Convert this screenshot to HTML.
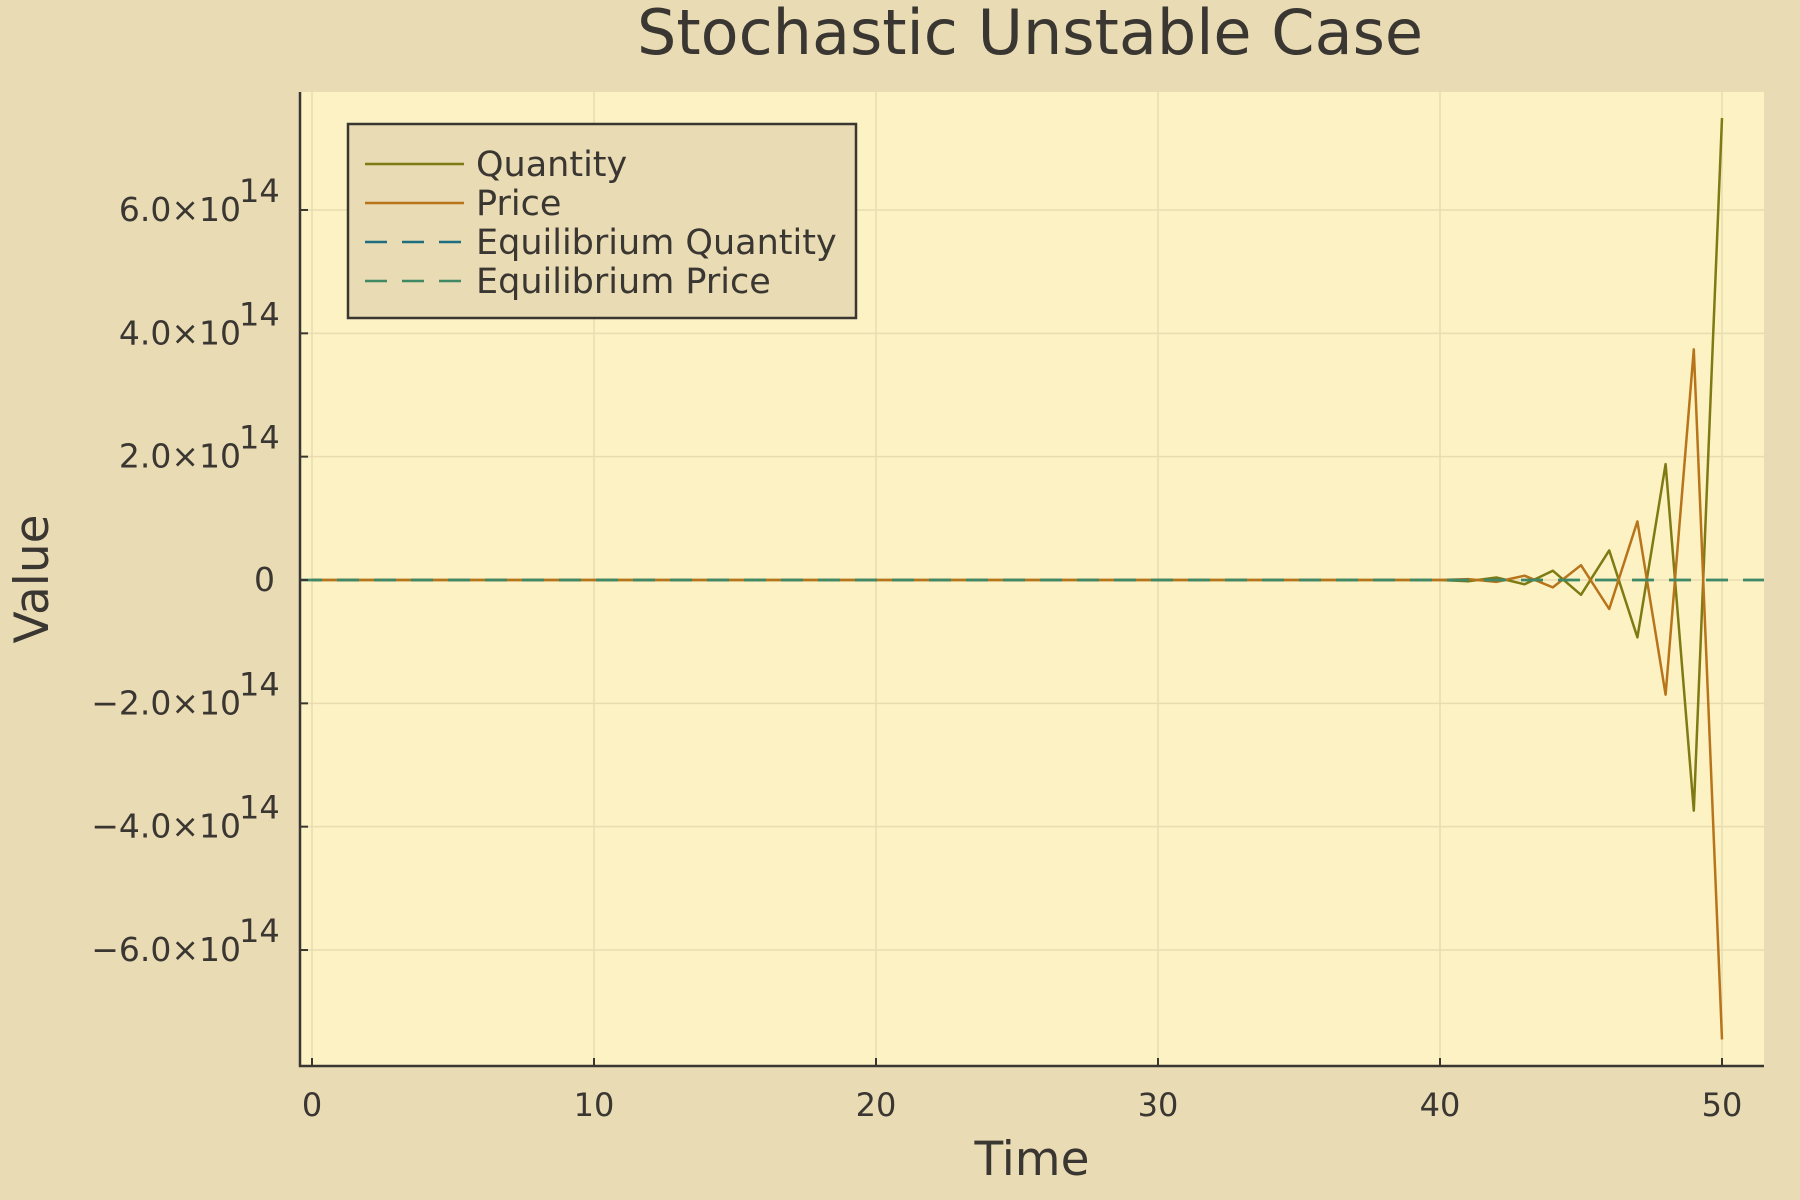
<!DOCTYPE html>
<html><head><meta charset="utf-8"><style>
html,body{margin:0;padding:0;background:#e9dbb3;}
svg{display:block;font-family:"DejaVu Sans","Liberation Sans",sans-serif;}
</style></head><body>
<svg id="chart" width="1800" height="1200" viewBox="0 0 1800 1200">
<rect x="0" y="0" width="1800" height="1200" fill="#e9dbb3"/>
<rect x="300" y="92" width="1464" height="974" fill="#fdf2c4"/>
<g id="grid"></g>
<g id="series"></g>
<g id="axes"></g>
<text x="1030" y="54" text-anchor="middle" font-size="62" fill="#3a3632">Stochastic Unstable Case</text>
<text x="1032" y="1175" text-anchor="middle" font-size="47" fill="#3a3632">Time</text>
<text transform="translate(48,579) rotate(-90)" text-anchor="middle" font-size="47" fill="#3a3632">Value</text>
<g>
<rect x="348" y="124" width="508" height="194" fill="#e9dbb3" stroke="#3a3632" stroke-width="2.5"/>
<g><line x1="365" y1="164" x2="464" y2="164" stroke="#7f7a14" stroke-width="2.5"/><text x="476" y="176" font-size="35" fill="#3a3632">Quantity</text></g>
<g><line x1="365" y1="203" x2="464" y2="203" stroke="#b8741a" stroke-width="2.5"/><text x="476" y="215" font-size="35" fill="#3a3632">Price</text></g>
<g><line x1="365" y1="242" x2="464" y2="242" stroke="#1f6e80" stroke-width="2.5" stroke-dasharray="22,15"/><text x="476" y="254" font-size="35" fill="#3a3632">Equilibrium Quantity</text></g>
<g><line x1="365" y1="281" x2="464" y2="281" stroke="#3f8a64" stroke-width="2.5" stroke-dasharray="22,15"/><text x="476" y="293" font-size="35" fill="#3a3632">Equilibrium Price</text></g>
</g>
</svg>
<script>
const times=[];for(let i=0;i<=50;i++)times.push(i);
const quantityTail=[-0.02,0.04,-0.07,0.15,-0.24,0.48,-0.93,1.88,-3.74,7.49]; // t=41..50, units 1e14
const priceTail=[0.015,-0.03,0.07,-0.12,0.24,-0.47,0.95,-1.86,3.74,-7.45];
const quantity=times.map(t=>t>=41?quantityTail[t-41]:0);
const price=times.map(t=>t>=41?priceTail[t-41]:0);
const eqQuantity=0, eqPrice=0;
const xTicks=[0,10,20,30,40,50];
const yTicks=[-6,-4,-2,0,2,4,6];
const yTickLabels=["\u22126.0\u00d710","\u22124.0\u00d710","\u22122.0\u00d710","0","2.0\u00d710","4.0\u00d710","6.0\u00d710"];
const NS="http://www.w3.org/2000/svg";
const X=t=>312+t*28.2;
const Y=v=>580-v*61.67;
function mk(tag,attrs,parent){const e=document.createElementNS(NS,tag);for(const k in attrs)e.setAttribute(k,attrs[k]);document.getElementById(parent).appendChild(e);return e;}
xTicks.forEach(t=>{
 const g=mk('line',{x1:X(t),x2:X(t),y1:92,y2:1066,stroke:'#e8dcb0','stroke-width':1.5},'grid');
 
 
 const tk=mk('line',{x1:X(t),x2:X(t),y1:1066,y2:1058,stroke:'#3a3632','stroke-width':2},'axes');
 
 
 const l=mk('text',{x:X(t),y:1116,'text-anchor':'middle','font-size':32,fill:'#3a3632'},'axes');
 l.textContent=t;
 
 
});
yTicks.forEach((v,i)=>{
 const g=mk('line',{x1:300,x2:1764,y1:Y(v),y2:Y(v),stroke:'#e8dcb0','stroke-width':1.5},'grid');
 
 
 const tk=mk('line',{x1:300,x2:308,y1:Y(v),y2:Y(v),stroke:'#3a3632','stroke-width':2},'axes');
 
 
 const l=mk('text',{x:v===0?275:241,y:Y(v)+11,'text-anchor':'end','font-size':33,fill:'#3a3632'},'axes');
 l.textContent=yTickLabels[i];
 
 
 if(v!==0){const s=mk('text',{x:239,y:Y(v)-8,'font-size':32,fill:'#3a3632'},'axes');s.textContent='14';
 
 }
});
function path(vals,color,name){
 const d=vals.map((v,i)=>(i?'L':'M')+X(times[i]).toFixed(1)+','+Y(v).toFixed(1)).join(' ');
 const p=mk('path',{d:d,fill:'none',stroke:color,'stroke-width':2.5,'stroke-linejoin':'round'},'series');
 
 
}
path(quantity,'#7f7a14','quantity-line');
path(price,'#b8741a','price-line');
const e1=mk('line',{x1:300,x2:1764,y1:Y(eqQuantity),y2:Y(eqQuantity),stroke:'#1f6e80','stroke-width':2.5,'stroke-dasharray':'22,15'},'series');


const e2=mk('line',{x1:300,x2:1764,y1:Y(eqPrice),y2:Y(eqPrice),stroke:'#3f8a64','stroke-width':2.5,'stroke-dasharray':'22,15'},'series');


const ax=mk('path',{d:'M300,92 L300,1066 L1764,1066',fill:'none',stroke:'#3a3632','stroke-width':2.5},'axes');


</script>
</body></html>
